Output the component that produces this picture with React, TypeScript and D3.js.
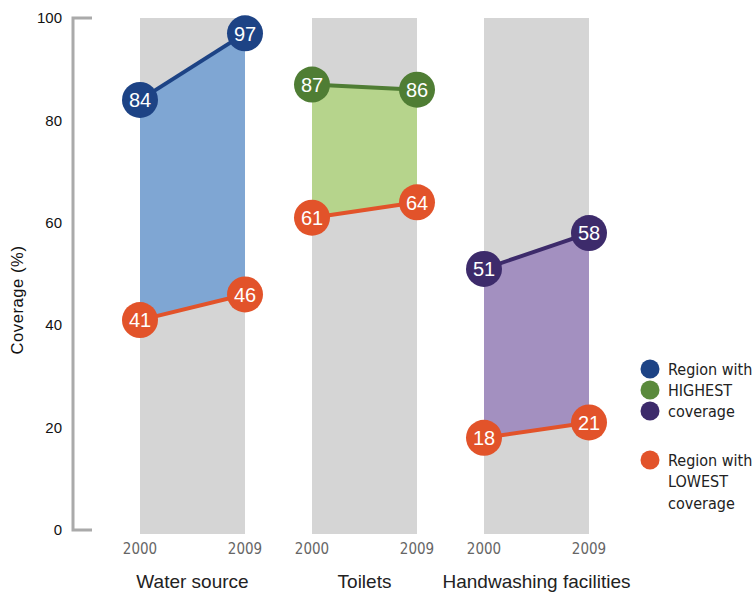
import React from "react";
import * as d3 from "d3";

const categories = ["Water source", "Toilets", "Handwashing facilities"];
const years = ["2000", "2009"];
const highest = [
  [84, 97],
  [87, 86],
  [51, 58],
];
const lowest = [
  [41, 46],
  [61, 64],
  [18, 21],
];
const yTicks = [0, 20, 40, 60, 80, 100];
const highColors = ["#1d4385", "#4f7d34", "#3d2b6b"];
const fillColors = ["#7fa6d3", "#b6d48c", "#a390c0"];
const lowColor = "#e2532a";
const legendHigh = ["#1d4385", "#5a8a3c", "#3d2b6b"];
const legendHighText = ["Region with", "HIGHEST", "coverage"];
const legendLowText = ["Region with", "LOWEST", "coverage"];

const narrow = "'Liberation Sans Narrow', 'DejaVu Sans Condensed', sans-serif";
const sans = "'Liberation Sans', Arial, sans-serif";

export default function App() {
  const W = 753;
  const H = 592;
  const y = d3.scaleLinear().domain([0, 100]).range([530, 18]);
  const groupX = d3.scaleBand().domain(categories).range([140, 140 + 172 * 3]).paddingInner(0);
  const bandW = 105;
  const r = 18;

  return (
    <svg
      width={W}
      height={H}
      style={{ position: "absolute", left: 0, top: 0, background: "#fff" }}
    >
      {/* y axis bracket */}
      <path
        d={`M92,${y(100)}H73V${y(0)}H92`}
        fill="none"
        stroke="#aaaaaa"
        strokeWidth={3}
      />
      {yTicks.map((t) => (
        <text
          key={t}
          x={62}
          y={y(t)}
          dy="0.35em"
          textAnchor="end"
          fontFamily={sans}
          fontSize={15}
          fill="#111"
        >
          {t}
        </text>
      ))}
      <text
        transform={`translate(23,300) rotate(-90)`}
        textAnchor="middle"
        fontFamily={sans}
        fontSize={16.5}
        letterSpacing={0.6}
        fill="#111"
      >
        Coverage (%)
      </text>

      {categories.map((c, i) => {
        const x0 = groupX(c) as number;
        const x1 = x0 + bandW;
        const xs = [x0, x1];
        const hi = highest[i];
        const lo = lowest[i];
        const poly = [
          [x0, y(hi[0])],
          [x1, y(hi[1])],
          [x1, y(lo[1])],
          [x0, y(lo[0])],
        ];
        const line = d3.line<number>().x((_, k) => xs[k]).y((v) => y(v));
        return (
          <g key={c}>
            <rect x={x0} y={y(100)} width={bandW} height={y(0) - y(100) + 4} fill="#d5d5d5" />
            <path d={"M" + poly.map((p) => p.join(",")).join("L") + "Z"} fill={fillColors[i]} />
            <path d={line(hi) || ""} stroke={highColors[i]} strokeWidth={4} fill="none" />
            <path d={line(lo) || ""} stroke={lowColor} strokeWidth={4} fill="none" />
            {hi.map((v, k) => (
              <g key={"h" + k}>
                <circle cx={xs[k]} cy={y(v)} r={r} fill={highColors[i]} />
                <text
                  x={xs[k]}
                  y={y(v)}
                  dy="0.36em"
                  textAnchor="middle"
                  fontFamily={sans}
                  fontSize={20}
                  fill="#fff"
                >
                  {v}
                </text>
              </g>
            ))}
            {lo.map((v, k) => (
              <g key={"l" + k}>
                <circle cx={xs[k]} cy={y(v)} r={r} fill={lowColor} />
                <text
                  x={xs[k]}
                  y={y(v)}
                  dy="0.36em"
                  textAnchor="middle"
                  fontFamily={sans}
                  fontSize={20}
                  fill="#fff"
                >
                  {v}
                </text>
              </g>
            ))}
            {years.map((yr, k) => (
              <text
                key={yr}
                x={xs[k]}
                y={554}
                textAnchor="middle"
                fontFamily={narrow}
                fontSize={15}
                fill="#666"
              >
                {yr}
              </text>
            ))}
            <text
              x={(x0 + x1) / 2}
              y={588}
              textAnchor="middle"
              fontFamily={sans}
              fontSize={19}
              fill="#222"
            >
              {c}
            </text>
          </g>
        );
      })}

      {/* legend */}
      {legendHigh.map((col, k) => (
        <circle key={k} cx={650} cy={369 + k * 21} r={9.5} fill={col} />
      ))}
      {legendHighText.map((t, k) => (
        <text
          key={t + k}
          x={668}
          y={369 + k * 21}
          dy="0.36em"
          fontFamily={narrow}
          fontSize={16}
          fill="#222"
        >
          {t}
        </text>
      ))}
      <circle cx={650} cy={460} r={9.5} fill={lowColor} />
      {legendLowText.map((t, k) => (
        <text
          key={"l" + t + k}
          x={668}
          y={460 + k * 21.5}
          dy="0.36em"
          fontFamily={narrow}
          fontSize={16}
          fill="#222"
        >
          {t}
        </text>
      ))}
    </svg>
  );
}
